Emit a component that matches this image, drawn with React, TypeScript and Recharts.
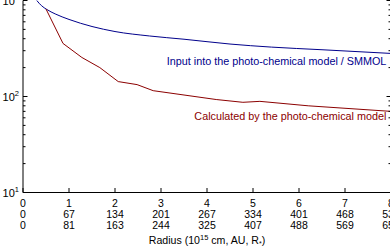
import React from 'react';
import { LineChart, Line, XAxis, YAxis, ReferenceDot } from 'recharts';

const radiusTicks = [0, 1, 2, 3, 4, 5, 6, 7, 8];
const auLabels = ['0', '67', '134', '201', '267', '334', '401', '468', '535'];
const rstarLabels = ['0', '81', '163', '244', '325', '407', '488', '569', '650'];
const yTicks = [10, 20, 30, 40, 50, 60, 70, 80, 90, 100, 200, 300, 400, 500, 600, 700, 800, 900, 1000];

const inputR = [0.2, 0.3, 0.4, 0.52, 0.7, 1.0, 1.5, 2.0, 2.75, 3.5, 4.5, 5.4, 6.5, 8.0];
const inputV = [1170, 1000, 885, 805, 725, 635, 536, 475, 427, 395, 352, 327, 307, 281];

const calcR = [0.5, 0.87, 1.28, 1.67, 2.07, 2.48, 2.83, 4.2, 4.78, 5.15, 6.2, 8.0];
const calcV = [815, 357, 255, 200, 143, 133, 115, 93, 87, 89, 80, 70];

const inputData = inputR.map((r, i) => ({ r, v: inputV[i] }));
const calcData = calcR.map((r, i) => ({ r, v: calcV[i] }));

const FONT = '"Liberation Sans", Arial, Helvetica, sans-serif';
const BLUE = '#00008b';
const RED = '#8b0000';

const BottomTick = (props: any) => {
  const { x, y, payload } = props;
  const i = radiusTicks.indexOf(payload.value);
  return (
    <g>
      <line x1={x} x2={x} y1={y} y2={y - 4.5} stroke="#000" strokeWidth={1} />
      <text x={x} y={y + 14.5} textAnchor="middle" fontSize={10.5} fill="#000">{payload.value}</text>
      <text x={x} y={y + 25.5} textAnchor="middle" fontSize={10.5} fill="#000">{auLabels[i]}</text>
      <text x={x} y={y + 36} textAnchor="middle" fontSize={10.5} fill="#000">{rstarLabels[i]}</text>
    </g>
  );
};

const TopTick = (props: any) => {
  const { x, y } = props;
  return <line x1={x} x2={x} y1={y} y2={y + 4.5} stroke="#000" strokeWidth={1} />;
};

const isMajor = (v: number) => {
  const e = Math.round(Math.log10(v));
  return Math.abs(Math.pow(10, e) - v) < 1e-6;
};

const LeftTick = (props: any) => {
  const { x, y, payload } = props;
  const v = payload.value;
  const major = isMajor(v);
  const e = Math.round(Math.log10(v));
  return (
    <g>
      <line x1={x} x2={x + (major ? 4.5 : 2.5)} y1={y} y2={y} stroke="#000" strokeWidth={1} />
      {major && (
        <text x={x - 4} y={y + 4.3} textAnchor="end" fontSize={11} fill="#000">
          10<tspan dy={-5} fontSize={7.5}>{e}</tspan>
        </text>
      )}
    </g>
  );
};

const RightTick = (props: any) => {
  const { x, y, payload } = props;
  const major = isMajor(payload.value);
  return <line x1={x} x2={x - (major ? 4.5 : 2.5)} y1={y} y2={y} stroke="#000" strokeWidth={1} />;
};

const AxisTitle = (props: any) => {
  const vb = props.viewBox;
  return (
    <text x={vb.x + vb.width / 2} y={vb.y + 51} textAnchor="middle" fontSize={10.6} fill="#000">
      Radius (10<tspan dy={-4} fontSize={7.5}>15</tspan>
      <tspan dy={4}> cm, AU, R</tspan>
      <tspan dy={2} fontSize={7}>*</tspan>
      <tspan dy={-2}>)</tspan>
    </text>
  );
};

const makeSeriesLabel = (text: string, color: string) => (props: any) => {
  const vb = props.viewBox;
  return (
    <text x={vb.x} y={vb.y} textAnchor="end" fontSize={10.8} fill={color}>
      {text}
    </text>
  );
};

export default function App() {
  return (
    <div style={{ position: 'absolute', left: 0, top: 0, width: 390, height: 250, overflow: 'hidden', background: '#fff' }}>
      <LineChart
        width={400}
        height={250}
        margin={{ top: 0.5, right: 0, bottom: 0, left: 0 }}
        style={{ fontFamily: FONT }}
      >
        <XAxis
          dataKey="r"
          type="number"
          domain={[0, 8]}
          ticks={radiusTicks}
          interval={0}
          height={57.5}
          tickSize={0}
          tickMargin={0}
          tickLine={false}
          axisLine={{ stroke: '#000', strokeWidth: 1 }}
          tick={<BottomTick />}
          label={{ content: <AxisTitle /> }}
          allowDataOverflow
        />
        <XAxis
          xAxisId="top"
          orientation="top"
          dataKey="r"
          type="number"
          domain={[0, 8]}
          ticks={radiusTicks}
          interval={0}
          height={0}
          tickSize={0}
          tickMargin={0}
          tickLine={false}
          axisLine={{ stroke: '#000', strokeWidth: 1 }}
          tick={<TopTick />}
          allowDataOverflow
        />
        <YAxis
          type="number"
          scale="log"
          domain={[10, 1000]}
          ticks={yTicks}
          interval={0}
          width={23}
          tickSize={0}
          tickMargin={0}
          tickLine={false}
          axisLine={{ stroke: '#000', strokeWidth: 1 }}
          tick={<LeftTick />}
          allowDataOverflow
        />
        <YAxis
          yAxisId="right"
          orientation="right"
          type="number"
          scale="log"
          domain={[10, 1000]}
          ticks={yTicks}
          interval={0}
          width={9}
          tickSize={0}
          tickMargin={0}
          tickLine={false}
          axisLine={{ stroke: '#000', strokeWidth: 1 }}
          tick={<RightTick />}
          allowDataOverflow
        />
        <Line
          data={inputData}
          dataKey="v"
          type="monotone"
          stroke={BLUE}
          strokeWidth={1}
          dot={false}
          isAnimationActive={false}
        />
        <Line
          data={calcData}
          dataKey="v"
          type="linear"
          stroke={RED}
          strokeWidth={1}
          dot={false}
          isAnimationActive={false}
        />
        <ReferenceDot
          x={7.9}
          y={213}
          r={0}
          fill="none"
          stroke="none"
          label={{ content: makeSeriesLabel('Input into the photo-chemical model / SMMOL', BLUE) }}
        />
        <ReferenceDot
          x={7.9}
          y={56.3}
          r={0}
          fill="none"
          stroke="none"
          label={{ content: makeSeriesLabel('Calculated by the photo-chemical model', RED) }}
        />
      </LineChart>
    </div>
  );
}
